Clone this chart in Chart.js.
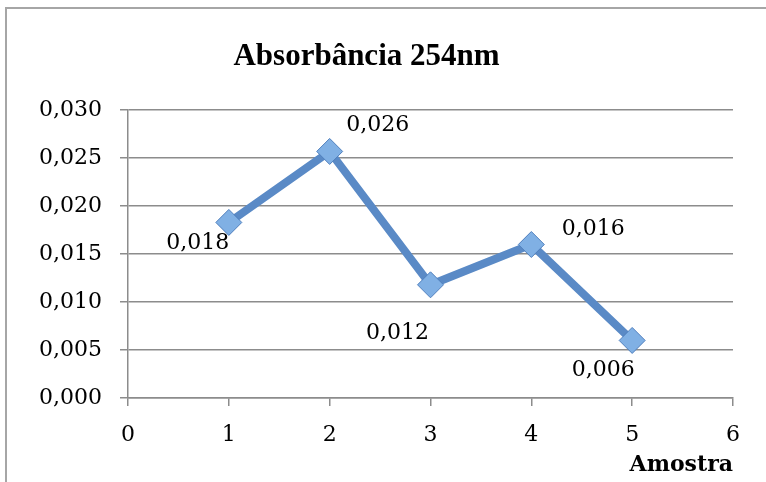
<!DOCTYPE html>
<html>
<head>
<meta charset="utf-8">
<script src="https://cdn.jsdelivr.net/npm/chart.js@4"></script>
<style>
  body { margin: 0; background: #fff; overflow: hidden; }
</style>
</head>
<body>
<canvas id="chart" width="766" height="482"></canvas>
<script>
// dados
var amostras = [1, 2, 3, 4, 5];
var absorbancia = [0.0183, 0.0257, 0.0118, 0.0160, 0.0060];
var rotulos = ['0,018', '0,026', '0,012', '0,016', '0,006'];

var fmt = function(v) { return v.toFixed(3).replace('.', ','); };

// moldura (só esquerda e topo, como no original)
var molduraPlugin = {
    id: 'moldura',
    beforeDraw: function(chart) {
        var ctx = chart.ctx;
        ctx.save();
        ctx.strokeStyle = '#a6a6a6';
        ctx.lineWidth = 2;
        ctx.beginPath();
        ctx.moveTo(6, chart.height);
        ctx.lineTo(6, 8);
        ctx.lineTo(chart.width, 8);
        ctx.stroke();
        ctx.restore();
    }
};

// rótulos dos pontos (deslocamento em px a partir do ponto)
var desloc = [[-31, 21], [48, -26], [-33, 48], [62, -15], [-29, 30]];
var rotulosPlugin = {
    id: 'rotulos',
    afterDatasetsDraw: function(chart) {
        var ctx = chart.ctx;
        var meta = chart.getDatasetMeta(0);
        ctx.save();
        ctx.font = '22px "DejaVu Serif"';
        ctx.fillStyle = '#000';
        ctx.textAlign = 'center';
        ctx.textBaseline = 'middle';
        meta.data.forEach(function(pt, i) {
            ctx.fillText(rotulos[i], pt.x + desloc[i][0], pt.y + desloc[i][1]);
        });
        ctx.restore();
    }
};

var cinza = '#8c8c8c';

var config = {
    type: 'line',
    data: {
        datasets: [{
            data: amostras.map(function(x, i) { return { x: x, y: absorbancia[i] }; }),
            borderColor: '#5a8ac6',
            borderWidth: 8,
            pointStyle: 'rectRot',
            pointRadius: 13,
            pointBackgroundColor: '#80b0e4',
            pointBorderColor: '#4f7fbd',
            pointBorderWidth: 1,
            tension: 0
        }]
    },
    options: {
        responsive: false,
        animation: false,
        layout: { padding: { left: 0, right: 33, top: 0, bottom: 0 } },
        plugins: {
            legend: { display: false },
            tooltip: { enabled: false },
            title: {
                display: true,
                text: 'Absorbância 254nm',
                color: '#000',
                font: { family: '"Liberation Serif"', size: 31, weight: 'bold', lineHeight: 1.2 },
                padding: { top: 38, bottom: 35 }
            }
        },
        scales: {
            x: {
                type: 'linear',
                min: 0,
                max: 6,
                ticks: { stepSize: 1, color: '#000', padding: 16,
                         font: { family: '"DejaVu Serif"', size: 22 } },
                grid: { drawOnChartArea: false, tickLength: 8, color: cinza, lineWidth: 1.5 },
                border: { color: cinza, width: 1.5 },
                title: {
                    display: true, text: 'Amostra', align: 'end', color: '#000',
                    font: { family: '"DejaVu Serif"', size: 22, weight: 'bold' },
                    padding: { top: 6 }
                },
                afterFit: function(s) { s.height = 84; }
            },
            y: {
                min: 0,
                max: 0.03,
                ticks: { stepSize: 0.005, color: '#000', padding: 18,
                         font: { family: '"DejaVu Serif"', size: 22 },
                         callback: function(v) { return fmt(v); } },
                grid: { tickLength: 8, color: cinza, lineWidth: 1.5 },
                border: { color: cinza, width: 1.5 },
                afterFit: function(s) { s.width = 128; }
            }
        }
    },
    plugins: [molduraPlugin, rotulosPlugin]
};

var ctx = document.getElementById('chart').getContext('2d');
var myChart = new Chart(ctx, config);
</script>
</body>
</html>
